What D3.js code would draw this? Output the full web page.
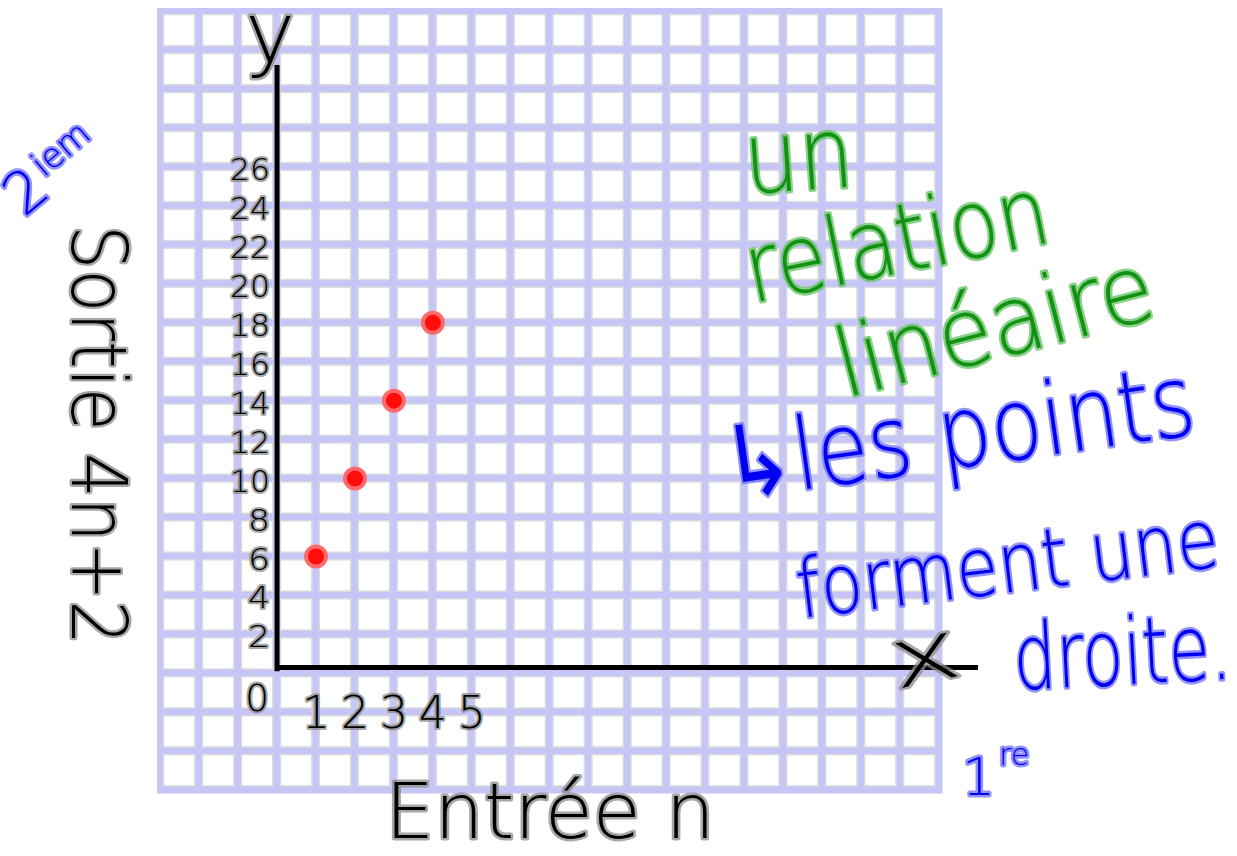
<!DOCTYPE html>
<html><head><meta charset="utf-8">
<script src="https://cdn.jsdelivr.net/npm/d3@7"></script>
<style>html,body{margin:0;padding:0;background:#fff;}svg{display:block;}</style>
</head><body>
<script>
// ---- data ----
const inputs = [1, 2, 3, 4];           // entrée n
const outputs = [6, 10, 14, 18];       // sortie 4n+2
const yTicks = [2, 4, 6, 8, 10, 12, 14, 16, 18, 20, 22, 24, 26];
const xTicks = [1, 2, 3, 4, 5];
const gridCount = 20;

const W = 1237, H = 856;
const svg = d3.select("body").append("svg").attr("width", W).attr("height", H);

const FONT = "'DejaVu Sans', sans-serif";

// grid scale (cell index -> pixel)
const pitch = 38.95;
const gx = d3.scaleLinear().domain([0, gridCount]).range([157, 157 + gridCount * pitch]);
const gy = d3.scaleLinear().domain([0, gridCount]).range([8, 8 + gridCount * pitch]);

// data scales: x=0 on grid column line 3, y=0 on grid row line 17; 1 unit x per cell, 2 units y per cell
const x = d3.scaleLinear().domain([0, 1]).range([gx(3) + 3.2, gx(4) + 3.2]);
const y = d3.scaleLinear().domain([0, 2]).range([gy(17) + 3.2, gy(16) + 3.2]);

// ---- grid ----
svg.append("rect").attr("x", gx(0)).attr("y", gy(0))
  .attr("width", gridCount * pitch + 6.5).attr("height", gridCount * pitch + 6.5)
  .attr("fill", "#c6c6f6");
const cells = [];
for (let i = 0; i < gridCount; i++) for (let j = 0; j < gridCount; j++) cells.push([i, j]);
svg.append("g").selectAll("rect").data(cells).join("rect")
  .attr("x", d => gx(d[0]) + 6.6).attr("y", d => gy(d[1]) + 6.6)
  .attr("width", 31.2).attr("height", 31.2)
  .attr("fill", "#fff").attr("stroke", "#dcdcdc").attr("stroke-width", 1.4);

// ---- hand text helper ----
function hand(txt, o) {
  const t = svg.append("text")
    .attr("transform", `translate(${o.x},${o.y}) rotate(${o.rot || 0})`)
    .attr("font-family", FONT).attr("font-weight", 200)
    .attr("font-size", o.size)
    .attr("text-anchor", o.anchor || "start")
    .attr("fill", o.color || "#000")
    .attr("stroke", o.halo || "#8a8a8a").attr("stroke-opacity", 0.75)
    .attr("stroke-width", o.sw || 5).attr("stroke-linejoin", "round")
    .attr("paint-order", "stroke")
    .text(txt);
  if (o.len) t.attr("textLength", o.len).attr("lengthAdjust", "spacingAndGlyphs");
  if (o.db) t.attr("dominant-baseline", o.db);
  return t;
}

// ---- axes ----
svg.append("line").attr("x1", x(0)).attr("x2", x(0)).attr("y1", 65).attr("y2", y(0) - 2)
  .attr("stroke", "#000").attr("stroke-width", 5);
svg.append("line").attr("x1", x(0) + 2).attr("x2", 978).attr("y1", y(0.3)).attr("y2", y(0.3))
  .attr("stroke", "#000").attr("stroke-width", 5);

// y tick labels
yTicks.forEach(v => hand(String(v), {x: x(0) - 7, y: y(v) + 2, size: 31, anchor: "end", db: "central", sw: 4, len: String(v).length > 1 ? 40 : 22}));
hand("0", {x: x(0) - 20, y: y(0) + 38, size: 38, anchor: "middle", sw: 4});
// x tick labels
xTicks.forEach(v => hand(String(v), {x: x(v), y: 728, size: 44, anchor: "middle", sw: 4}));

// axis names
hand("y", {x: 270, y: 62, size: 84, anchor: "middle", sw: 5});
hand("x", {x: 930, y: 682, size: 82, anchor: "middle", rot: -12, sw: 5, len: 70});

hand("Entrée n", {x: 385, y: 838, size: 76, len: 330, sw: 5});
hand("Sortie 4n+2", {x: 72, y: 225, size: 76, rot: 90, len: 420, sw: 5});

// ---- points ----
const pts = inputs.map((n, i) => ({n, v: outputs[i]}));
svg.append("g").selectAll("circle").data(pts).join("circle")
  .attr("cx", d => x(d.n)).attr("cy", d => y(d.v)).attr("r", 10)
  .attr("fill", "#ff0d0d").attr("stroke", "#ff6a6a").attr("stroke-width", 4);

// ---- annotations ----
const G = {color: "#129112", halo: "#62c262"};
const B = {color: "#0000f0", halo: "#6f6fff"};
hand("un", Object.assign({x: 746, y: 194, size: 100, rot: -4, len: 110}, G));
hand("relation", Object.assign({x: 752, y: 303, size: 95, rot: -11.5, len: 308}, G));
hand("linéaire", Object.assign({x: 845, y: 398, size: 95, rot: -14.5, len: 325}, G));

hand("↳les points", Object.assign({x: 728, y: 500, size: 100, rot: -8, len: 475}, B));
hand("forment une", Object.assign({x: 800, y: 618, size: 82, rot: -7, len: 425}, B));
hand("droite.", Object.assign({x: 1015, y: 690, size: 92, rot: -3, len: 218}, B));

// ordinal notes
const t2 = hand("2", Object.assign({x: 24, y: 218, size: 58, rot: -40, sw: 5}, B));
t2.append("tspan").attr("font-size", 34).attr("dy", -18).attr("dx", 4).text("iem");
const t1 = hand("1", Object.assign({x: 962, y: 795, size: 52, sw: 5}, B));
t1.append("tspan").attr("font-size", 30).attr("dy", -30).attr("dx", 4).text("re");
</script>
</body></html>
